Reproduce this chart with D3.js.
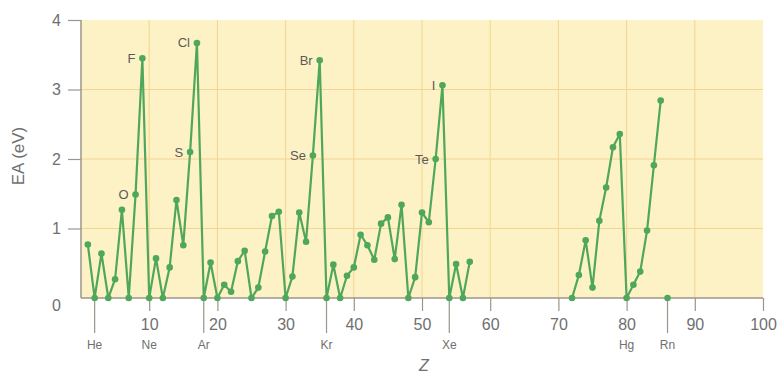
<!DOCTYPE html>
<html>
<head>
<meta charset="utf-8">
<script src="https://cdn.jsdelivr.net/npm/d3@7"></script>
<style>
  html, body { margin: 0; padding: 0; background: #ffffff; }
  svg { display: block; }
  text { font-family: "Liberation Sans", Arial, Helvetica, sans-serif; }
</style>
</head>
<body>
<svg id="chart" width="778" height="376"></svg>
<script>
// Electron affinity (eV) by atomic number Z
const zFirst = [1,2,3,4,5,6,7,8,9,10,11,12,13,14,15,16,17,18,19,20,
  21,22,23,24,25,26,27,28,29,30,31,32,33,34,35,36,37,38,39,40,
  41,42,43,44,45,46,47,48,49,50,51,52,53,54,55,56,57];
const eaFirst = [0.77,0,0.64,0,0.27,1.27,0,1.49,3.45,0,0.57,0,0.44,1.41,0.76,2.10,3.67,0,0.51,0,
  0.19,0.09,0.53,0.68,0,0.15,0.67,1.18,1.24,0,0.31,1.23,0.81,2.05,3.42,0,0.48,0,0.32,0.44,
  0.91,0.76,0.55,1.07,1.16,0.56,1.34,0,0.30,1.23,1.09,2.00,3.06,0,0.49,0,0.52];

const zSecond = [72,73,74,75,76,77,78,79,80,81,82,83,84,85];
const eaSecond = [0,0.33,0.83,0.15,1.11,1.59,2.17,2.36,0,0.19,0.38,0.97,1.91,2.84];

const zLone = [86];
const eaLone = [0];

// Element names written beside the peaks
const peakSymbols = ["O","F","S","Cl","Se","Br","Te","I"];
const peakZ = [8,9,16,17,34,35,52,53];

// Noble gases (and Hg) named under the axis
const axisSymbols = ["He","Ne","Ar","Kr","Xe","Hg","Rn"];
const axisZ = [2,10,18,36,54,80,86];
const longTickZ = [2,18,36,54,86];

const xTicks = [10,20,30,40,50,60,70,80,90,100];
const yTicks = [0,1,2,3,4];

const svg = d3.select("#chart");
const plotLeft = 81, plotRight = 763, plotTop = 20, plotBottom = 298;

const x = d3.scaleLinear().domain([0, 100]).range([plotLeft, plotRight]);
const y = d3.scaleLinear().domain([0, 4]).range([plotBottom, plotTop]);

const colBg = "#fdf1c6", colGrid = "#f2d58e", colAxis = "#9d958b",
      colText = "#707070", colGreen = "#4fa75b";

// plot background
svg.append("rect")
  .attr("x", plotLeft).attr("y", plotTop)
  .attr("width", plotRight - plotLeft).attr("height", plotBottom - plotTop)
  .attr("fill", colBg);

// grid
const grid = svg.append("g");
grid.selectAll("line.v").data(xTicks.filter(d => d < 100)).join("line")
  .attr("class", "v")
  .attr("x1", d => x(d)).attr("x2", d => x(d))
  .attr("y1", plotTop).attr("y2", plotBottom)
  .attr("stroke", colGrid).attr("stroke-width", 1);
grid.selectAll("line.h").data(yTicks.filter(d => d > 0 && d < 4)).join("line")
  .attr("class", "h")
  .attr("x1", plotLeft).attr("x2", plotRight)
  .attr("y1", d => y(d)).attr("y2", d => y(d))
  .attr("stroke", colGrid).attr("stroke-width", 1);

// y axis
const yAxis = svg.append("g")
  .attr("transform", `translate(${plotLeft},0)`)
  .call(d3.axisLeft(y).tickValues(yTicks.filter(d => d > 0)).tickSize(13).tickPadding(7).tickFormat(d3.format("d")));
yAxis.select(".domain").remove();
yAxis.selectAll(".tick line").attr("stroke", colAxis).attr("stroke-width", 1.2);
yAxis.selectAll(".tick text").attr("fill", colText).attr("font-size", 16)
  .attr("font-family", "'Liberation Sans', Arial, sans-serif");
// zero label sits a little below the baseline
svg.append("text")
  .attr("x", plotLeft - 20).attr("y", y(0) + 8).attr("dy", "0.32em")
  .attr("text-anchor", "end").attr("fill", colText).attr("font-size", 16)
  .text(yTicks[0]);

// x axis
const xAxis = svg.append("g")
  .attr("transform", `translate(0,${plotBottom})`)
  .call(d3.axisBottom(x).tickValues(xTicks).tickSize(13).tickPadding(8).tickFormat(d3.format("d")));
xAxis.select(".domain").remove();
xAxis.selectAll(".tick line").attr("stroke", colAxis).attr("stroke-width", 1.2);
xAxis.selectAll(".tick text").attr("fill", colText).attr("font-size", 16)
  .attr("font-family", "'Liberation Sans', Arial, sans-serif");

// long ticks for the noble gases
svg.append("g").selectAll("line").data(longTickZ).join("line")
  .attr("x1", d => x(d)).attr("x2", d => x(d))
  .attr("y1", plotBottom).attr("y2", plotBottom + 35)
  .attr("stroke", colAxis).attr("stroke-width", 1.2);

// axis lines
svg.append("line").attr("x1", plotLeft).attr("x2", plotLeft).attr("y1", plotTop).attr("y2", plotBottom)
  .attr("stroke", colAxis).attr("stroke-width", 1.5);
svg.append("line").attr("x1", plotLeft).attr("x2", plotRight).attr("y1", plotBottom).attr("y2", plotBottom)
  .attr("stroke", colAxis).attr("stroke-width", 1.5);

// element names under the axis
svg.append("g").selectAll("text").data(axisSymbols).join("text")
  .attr("x", (d, i) => x(axisZ[i]))
  .attr("y", plotBottom + 51)
  .attr("text-anchor", "middle")
  .attr("fill", colText).attr("font-size", 12)
  .text(d => d);

// axis titles
svg.append("text")
  .attr("transform", `translate(24,${(plotTop + plotBottom) / 2 - 3}) rotate(-90)`)
  .attr("text-anchor", "middle").attr("fill", colText).attr("font-size", 17)
  .text("EA (eV)");
svg.append("text")
  .attr("x", 424).attr("y", 371)
  .attr("text-anchor", "middle").attr("fill", colText).attr("font-size", 16)
  .attr("font-style", "italic")
  .text("Z");

// series
const first = zFirst.map((z, i) => ({ z, ea: eaFirst[i] }));
const second = zSecond.map((z, i) => ({ z, ea: eaSecond[i] }));
const lone = zLone.map((z, i) => ({ z, ea: eaLone[i] }));

const line = d3.line().x(d => x(d.z)).y(d => y(d.ea));
const marks = svg.append("g");
[first, second].forEach(seg => {
  marks.append("path").datum(seg)
    .attr("d", line)
    .attr("fill", "none").attr("stroke", colGreen)
    .attr("stroke-width", 2.2).attr("stroke-linejoin", "round");
});
marks.selectAll("circle").data(first.concat(second, lone)).join("circle")
  .attr("cx", d => x(d.z)).attr("cy", d => y(d.ea))
  .attr("r", 3.3).attr("fill", colGreen);

// peak labels
const eaByZ = new Map(first.concat(second, lone).map(d => [d.z, d.ea]));
svg.append("g").selectAll("text").data(peakSymbols).join("text")
  .attr("x", (d, i) => x(peakZ[i]) - 7)
  .attr("y", (d, i) => y(eaByZ.get(peakZ[i])))
  .attr("dy", "0.35em")
  .attr("text-anchor", "end")
  .attr("fill", "#5a5a5a").attr("font-size", 13)
  .text(d => d);
</script>
</body>
</html>
